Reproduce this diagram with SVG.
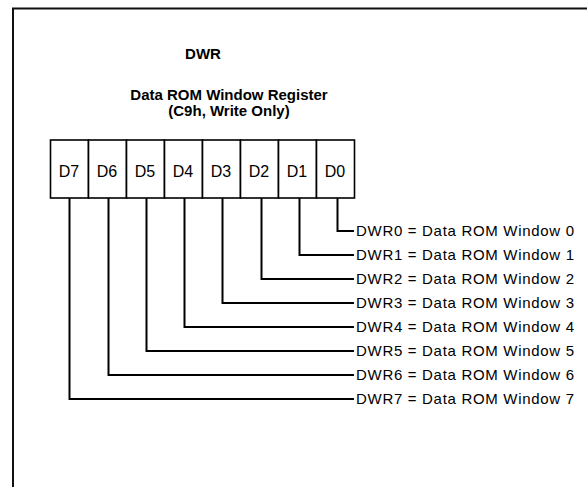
<svg xmlns="http://www.w3.org/2000/svg" width="587" height="487" viewBox="0 0 587 487">
<style>
.frame{fill:none;stroke:#111;stroke-width:2}
.cell{fill:#fff;stroke:#000;stroke-width:1.6}
.conn{fill:none;stroke:#000;stroke-width:2}
.t{font-family:"Liberation Sans",Arial,sans-serif;fill:#000}
.title{font-size:15px;font-weight:bold;text-anchor:middle}
.bit{font-size:16px;text-anchor:middle}
.lbl{font-size:15px}
</style>
<rect width="587" height="487" fill="#fff"/>
<path class="frame" d="M13,490 V8.5 H590"/>
<g id="title">
<text class="t title" x="203" y="58.5">DWR</text>
<text class="t title" x="229" y="100">Data ROM Window Register</text>
<text class="t title" x="229" y="116">(C9h, Write Only)</text>
</g>
<g id="register">
<g id="bit7"><rect class="cell" x="50.5" y="140" width="38" height="58"/><text class="t bit" x="69" y="177">D7</text></g>
<g id="bit6"><rect class="cell" x="88.5" y="140" width="38" height="58"/><text class="t bit" x="107" y="177">D6</text></g>
<g id="bit5"><rect class="cell" x="126.5" y="140" width="38" height="58"/><text class="t bit" x="145" y="177">D5</text></g>
<g id="bit4"><rect class="cell" x="164.5" y="140" width="38" height="58"/><text class="t bit" x="183" y="177">D4</text></g>
<g id="bit3"><rect class="cell" x="202.5" y="140" width="38" height="58"/><text class="t bit" x="221" y="177">D3</text></g>
<g id="bit2"><rect class="cell" x="240.5" y="140" width="38" height="58"/><text class="t bit" x="259" y="177">D2</text></g>
<g id="bit1"><rect class="cell" x="278.5" y="140" width="38" height="58"/><text class="t bit" x="297" y="177">D1</text></g>
<g id="bit0"><rect class="cell" x="316.5" y="140" width="38" height="58"/><text class="t bit" x="335" y="177">D0</text></g>
</g>
<g id="connectors">
<path class="conn" d="M337.5,198 V231 H354"/>
<path class="conn" d="M299.5,198 V255 H354"/>
<path class="conn" d="M261.5,198 V279 H354"/>
<path class="conn" d="M222.5,198 V303 H354"/>
<path class="conn" d="M184.5,198 V327 H354"/>
<path class="conn" d="M146.5,198 V351 H354"/>
<path class="conn" d="M108.5,198 V375 H354"/>
<path class="conn" d="M69.5,198 V399 H354"/>
</g>
<g id="labels">
<text class="t lbl" x="356" y="236" textLength="218" lengthAdjust="spacing">DWR0 = Data ROM Window 0</text>
<text class="t lbl" x="356" y="260" textLength="218" lengthAdjust="spacing">DWR1 = Data ROM Window 1</text>
<text class="t lbl" x="356" y="284" textLength="218" lengthAdjust="spacing">DWR2 = Data ROM Window 2</text>
<text class="t lbl" x="356" y="308" textLength="218" lengthAdjust="spacing">DWR3 = Data ROM Window 3</text>
<text class="t lbl" x="356" y="332" textLength="218" lengthAdjust="spacing">DWR4 = Data ROM Window 4</text>
<text class="t lbl" x="356" y="356" textLength="218" lengthAdjust="spacing">DWR5 = Data ROM Window 5</text>
<text class="t lbl" x="356" y="380" textLength="218" lengthAdjust="spacing">DWR6 = Data ROM Window 6</text>
<text class="t lbl" x="356" y="404" textLength="218" lengthAdjust="spacing">DWR7 = Data ROM Window 7</text>
</g>
</svg>
